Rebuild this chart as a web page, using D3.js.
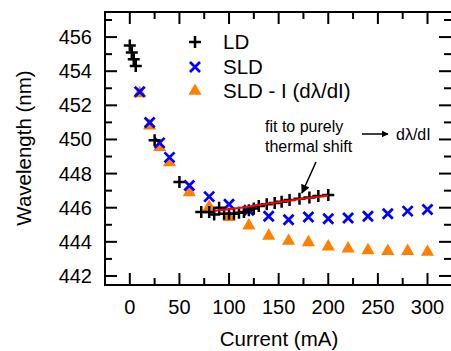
<!DOCTYPE html>
<html lang="en">
<head>
    <meta charset="UTF-8">
    <title>Wavelength vs Current</title>
    <script src="https://d3js.org/d3.v7.min.js"></script>
    <style>
        body { margin: 0; background: #fff; }
        text { font-family: "Liberation Sans", Arial, sans-serif; }
    </style>
</head>
<body>
    <script>
        // DATA (current in mA, wavelength in nm)
        var ldCurrent = [0, 2, 4, 6, 25, 50, 72, 80, 85, 90, 95, 100, 105, 110, 115, 120, 125, 130, 138, 146, 153, 161, 171, 181, 190, 200];
        var ldWave = [455.5, 455.1, 454.7, 454.3, 449.95, 447.5, 445.75, 445.75, 445.6, 446.0, 445.65, 445.65, 445.65, 445.7, 445.75, 445.85, 445.95, 446.1, 446.2, 446.28, 446.35, 446.45, 446.52, 446.6, 446.68, 446.75];

        var sldCurrent = [10, 20, 30, 40, 60, 80, 100, 120, 140, 160, 180, 200, 220, 240, 260, 280, 300];
        var sldWave = [452.8, 451.0, 449.8, 448.95, 447.3, 446.65, 446.2, 445.85, 445.5, 445.3, 445.45, 445.35, 445.4, 445.5, 445.65, 445.8, 445.9];

        var sldiCurrent = [10, 20, 30, 40, 60, 80, 100, 120, 140, 160, 180, 200, 220, 240, 260, 280, 300];
        var sldiWave = [452.7, 450.8, 449.55, 448.65, 446.9, 446.05, 445.45, 444.95, 444.35, 444.05, 443.97, 443.72, 443.6, 443.5, 443.45, 443.45, 443.4];

        var fitCurrent = [85, 110, 140, 170, 200];
        var fitWave = [445.82, 445.98, 446.25, 446.5, 446.72];

        var xTicks = [0, 50, 100, 150, 200, 250, 300];
        var yTicks = [442, 444, 446, 448, 450, 452, 454, 456];
        var legendNames = ["LD", "SLD", "SLD - I (d\u03bb/dI)"];

        var width = 451, height = 351;
        var pLeft = 105, pRight = 452, pTop = 12, pBottom = 285;

        var svg = d3.select("body").append("svg")
            .attr("width", width)
            .attr("height", height);

        var x = d3.scaleLinear().domain([-25, 325]).range([pLeft, pLeft + 350 * 0.9923]);
        var y = d3.scaleLinear().domain([441.47, 457.47]).range([pBottom, pTop]);

        // minor / major ticks, all pointing inward
        var xMinor = d3.range(-25, 326, 25);
        var yMinor = d3.range(442, 458, 1);
        var tickG = svg.append("g").attr("stroke", "#000").attr("stroke-width", 2);

        xMinor.forEach(function(v) {
            var len = (v % 50 === 0) ? 12 : 7;
            tickG.append("line").attr("x1", x(v)).attr("x2", x(v)).attr("y1", pBottom).attr("y2", pBottom - len);
            tickG.append("line").attr("x1", x(v)).attr("x2", x(v)).attr("y1", pTop).attr("y2", pTop + len);
        });
        yMinor.forEach(function(v) {
            var len = (v % 2 === 0) ? 12 : 7;
            tickG.append("line").attr("x1", pLeft).attr("x2", pLeft + len).attr("y1", y(v)).attr("y2", y(v));
            tickG.append("line").attr("x1", pRight - 1).attr("x2", pRight - 1 - len).attr("y1", y(v)).attr("y2", y(v));
        });

        // frame
        svg.append("rect")
            .attr("x", pLeft).attr("y", pTop)
            .attr("width", pRight - pLeft).attr("height", pBottom - pTop)
            .attr("fill", "none").attr("stroke", "#000").attr("stroke-width", 2);

        // tick labels
        svg.append("g").selectAll("text").data(xTicks).enter().append("text")
            .attr("x", function(d) { return x(d); })
            .attr("y", 314)
            .attr("text-anchor", "middle")
            .attr("font-size", "20px")
            .text(function(d) { return d; });

        svg.append("g").selectAll("text").data(yTicks).enter().append("text")
            .attr("x", 92)
            .attr("y", function(d) { return y(d) + 7; })
            .attr("text-anchor", "end")
            .attr("font-size", "20px")
            .text(function(d) { return d; });

        // axis titles
        svg.append("text")
            .attr("x", 279).attr("y", 346)
            .attr("text-anchor", "middle")
            .attr("font-size", "20.5px")
            .text("Current (mA)");

        svg.append("text")
            .attr("transform", "translate(31,148) rotate(-90)")
            .attr("text-anchor", "middle")
            .attr("font-size", "20.5px")
            .text("Wavelength (nm)");

        // marker helpers
        function plus(g, cx, cy) {
            g.append("path")
                .attr("d", "M" + (cx - 6) + "," + cy + "H" + (cx + 6) + "M" + cx + "," + (cy - 6) + "V" + (cy + 6))
                .attr("stroke", "#000").attr("stroke-width", 2.5).attr("fill", "none");
        }
        function cross(g, cx, cy) {
            var s = 5;
            g.append("path")
                .attr("d", "M" + (cx - s) + "," + (cy - s) + "L" + (cx + s) + "," + (cy + s) + "M" + (cx - s) + "," + (cy + s) + "L" + (cx + s) + "," + (cy - s))
                .attr("stroke", "#0000ff").attr("stroke-width", 2.8).attr("fill", "none");
        }
        var tri = d3.symbol().type(d3.symbolTriangle).size(75);
        function triangle(g, cx, cy) {
            g.append("path")
                .attr("d", tri())
                .attr("transform", "translate(" + cx + "," + cy + ")")
                .attr("fill", "#ff8000");
        }

        // series
        var gTri = svg.append("g");
        sldiCurrent.forEach(function(c, i) { triangle(gTri, x(c), y(sldiWave[i])); });

        var gCross = svg.append("g");
        sldCurrent.forEach(function(c, i) { cross(gCross, x(c), y(sldWave[i])); });

        var gPlus = svg.append("g");
        ldCurrent.forEach(function(c, i) { plus(gPlus, x(c), y(ldWave[i])); });

        // fit line
        var line = d3.line()
            .x(function(d) { return x(d[0]); })
            .y(function(d) { return y(d[1]); })
            .curve(d3.curveMonotoneX);
        svg.append("path")
            .datum(fitCurrent.map(function(c, i) { return [c, fitWave[i]]; }))
            .attr("d", line)
            .attr("fill", "none")
            .attr("stroke", "#ff0000")
            .attr("stroke-width", 2);

        // legend
        var legY = [42, 67, 91];
        var gLeg = svg.append("g");
        plus(gLeg, 195, legY[0]);
        cross(gLeg, 195, legY[1]);
        triangle(gLeg, 195, legY[2]);
        gLeg.selectAll("text").data(legendNames).enter().append("text")
            .attr("x", 223)
            .attr("y", function(d, i) { return legY[i] + 7; })
            .attr("font-size", "20.5px")
            .text(function(d) { return d; });

        // annotations
        var defs = svg.append("defs");
        defs.append("marker")
            .attr("id", "head")
            .attr("viewBox", "0 0 10 10")
            .attr("refX", 9).attr("refY", 5)
            .attr("markerWidth", 7).attr("markerHeight", 7)
            .attr("markerUnits", "userSpaceOnUse")
            .attr("orient", "auto")
            .append("path").attr("d", "M0,0L10,5L0,10Z").attr("fill", "#000");
        defs.append("marker")
            .attr("id", "headBig")
            .attr("viewBox", "0 0 10 10")
            .attr("refX", 9).attr("refY", 5)
            .attr("markerWidth", 15).attr("markerHeight", 9)
            .attr("markerUnits", "userSpaceOnUse")
            .attr("orient", "auto")
            .append("path").attr("d", "M0,0L10,5L0,10Z").attr("fill", "#000");

        svg.append("text").attr("x", 265).attr("y", 132).attr("font-size", "16px").text("fit to purely");
        svg.append("text").attr("x", 265).attr("y", 152).attr("font-size", "16px").text("thermal shift");

        svg.append("line")
            .attr("x1", 316).attr("y1", 162).attr("x2", 302).attr("y2", 193)
            .attr("stroke", "#000").attr("stroke-width", 1.5)
            .attr("marker-end", "url(#headBig)");

        svg.append("line")
            .attr("x1", 362).attr("y1", 134).attr("x2", 388).attr("y2", 134)
            .attr("stroke", "#000").attr("stroke-width", 1.5)
            .attr("marker-end", "url(#head)");
        svg.append("text").attr("x", 396).attr("y", 140).attr("font-size", "16px").text("d\u03bb/dI");
    </script>
</body>
</html>
